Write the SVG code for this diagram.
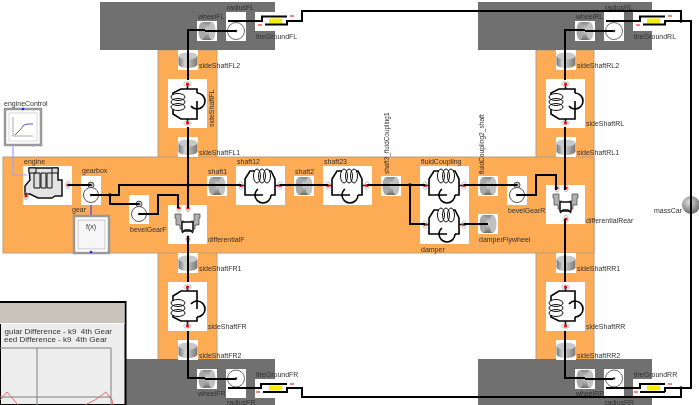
<svg xmlns="http://www.w3.org/2000/svg" xmlns:xlink="http://www.w3.org/1999/xlink" width="699" height="405" viewBox="0 0 699 405">
<style>
text{font-family:"Liberation Sans",Arial,sans-serif;font-size:7px;fill:#333}
.w{fill:#fff}
.org{fill:#fdab55;stroke:#b8a080;stroke-width:1}
.gry{fill:#6f6f6f}
.c{fill:none;stroke:#000;stroke-width:2}
.t{fill:none;stroke:#000;stroke-width:1.6}
.th{fill:none;stroke:#111;stroke-width:1}
.r{fill:#f00}
.ring{fill:none;stroke:#999;stroke-width:.6}
.bl{fill:none;stroke:#4040f0;stroke-width:1.2}
.lb{fill:none;stroke:#a0a0ff;stroke-width:1.2}
.frame{fill:#fff;stroke:#999;stroke-width:2.5}
.pl{fill:none;stroke:#e05050;stroke-width:.8}
.g{fill:none;stroke:#808080;stroke-width:1}
</style>
<defs>
<linearGradient id="gv" x1="0" x2="1" y1="0" y2="0"><stop offset="0" stop-color="#777"/><stop offset=".35" stop-color="#d4d4d4"/><stop offset="1" stop-color="#777"/></linearGradient>
<linearGradient id="gd" x1="0" x2="0" y1="0" y2="1"><stop offset="0" stop-color="#888"/><stop offset=".45" stop-color="#d4d4d4"/><stop offset="1" stop-color="#6c6c6c"/></linearGradient>
<radialGradient id="sp" cx=".4" cy=".35" r=".7"><stop offset="0" stop-color="#ddd"/><stop offset="1" stop-color="#666"/></radialGradient>
<g id="port"><ellipse cx="0" cy="0" rx="2.2" ry="3.8" class="ring"/><circle r="1.6" class="r"/></g>
<g id="sd">
<rect width="49" height="39" class="w"/>
<path class="t" d="M4 19.500H9V29H27M9 19.500V13L14 5H19M33 5H35L39 13V29H35M39 19.500H45"/>
<path class="t" d="M35 29A8 8 0 0 1 19 29A8 8 0 0 1 22 23"/>
<ellipse cx="21" cy="10" rx="3.500" ry="7" class="th"/><ellipse cx="26" cy="10" rx="3.500" ry="7" class="th"/><ellipse cx="31" cy="10" rx="3.500" ry="7" class="th"/>
<use xlink:href="#port" x="5" y="19.500"/><use xlink:href="#port" x="44" y="19.500"/>
</g>
<g id="dh"><rect width="20" height="20" class="w"/><rect x="5" y="1" width="10" height="18" fill="url(#gd)"/><ellipse cx="5" cy="10" rx="3.500" ry="9" fill="#a8a8a8"/><ellipse cx="15" cy="10" rx="3.500" ry="9" fill="#c0c0c0"/></g>
<g id="dv"><rect width="20" height="20" class="w"/><path d="M.5 6V14.500A9.500 3.500 0 0 0 19.500 14.500V6Z" fill="url(#gv)"/><ellipse cx="10" cy="6" rx="9.500" ry="3.500" fill="#c8c8c8"/></g>
<g id="gb"><rect width="20" height="29" class="w"/><circle cx="10" cy="9" r="3" fill="#bbb" stroke="#333" stroke-width=".8"/><circle cx="10" cy="9" r="1" fill="#333"/><circle cx="10" cy="19" r="7.500" fill="#fff" stroke="#555" stroke-width="1"/><circle cx="10" cy="19" r="1.200" fill="#333"/></g>
<g id="rad"><rect width="20" height="29" class="w"/><circle cx="10" cy="19" r="8.500" fill="#fff" stroke="#444" stroke-width=".8"/><circle cx="10" cy="19" r="1.300" fill="#333"/></g>
<g id="rad2"><rect width="20" height="29" class="w"/><circle cx="10" cy="9.500" r="8.500" fill="#fff" stroke="#444" stroke-width=".8"/><circle cx="10" cy="9.500" r="1.300" fill="#333"/></g>
<g id="tire"><rect width="40" height="19" class="w"/></g>
<g id="yel"><rect x="14" y="6.500" width="13" height="5" fill="#f8ee00"/></g>
<g id="diff"><rect width="39" height="39" class="w"/>
<path d="M7 9H13V16H16V24H12V20H8V13H7ZM32 9H26V16H23V24H27V20H31V13H32Z" fill="#b0b0b0" stroke="#444" stroke-width=".7"/>
<rect x="14" y="17" width="11" height="9" fill="#fff" stroke="#111" stroke-width="1.500"/>
<path d="M14 28L17 25H22L25 28" fill="none" stroke="#111" stroke-width="1.300"/>
<use xlink:href="#port" x="11" y="3"/><use xlink:href="#port" x="20" y="3"/><use xlink:href="#port" x="20" y="34"/></g>
<filter id="soft" x="0" y="0" width="100%" height="100%"><feGaussianBlur stdDeviation="0.35"/></filter>
<clipPath id="pc"><rect x="0" y="302" width="125" height="103"/></clipPath>
</defs>
<g filter="url(#soft)">
<rect width="699" height="405" fill="#fff"/>
<g id="background">
<rect x="158" y="50" width="59" height="310" class="org"/>
<rect x="536" y="50" width="58" height="310" class="org"/>
<rect x="3" y="157" width="591" height="96" class="org"/>
<rect x="100" y="2" width="175" height="48" class="gry"/>
<rect x="478" y="2" width="174" height="48" class="gry"/>
<rect x="100" y="359" width="175" height="46" class="gry"/>
<rect x="478" y="359" width="174" height="46" class="gry"/>
</g>
<g id="engineControl"><rect x="5" y="109" width="36" height="36" class="frame"/><rect x="9" y="113" width="28" height="28" fill="#fff" stroke="#ccc" stroke-width=".8"/><path d="M13 117V136H33" fill="none" stroke="#888" stroke-width=".7"/><path d="M15 135L20 130 24 125 28 124 33 124" fill="none" stroke="#4848c8" stroke-width=".9"/><circle cx="23" cy="109" r="1.300" fill="#2020f0"/><text x="4" y="106">engineControl</text></g>
<g id="engine"><rect x="23" y="166" width="49" height="39" class="w"/>
<path d="M29 168H58V180H62V190H62V196H55L52 198H38L30 194H25V186L30 180Z" fill="#e4e4e4" stroke="#111" stroke-width="1.500"/>
<path d="M29 168H36V173H29ZM34 173H40V188H34ZM41 173H46V188H41ZM47 173H52V188H47ZM52 168H58V173H52Z" fill="#ddd" stroke="#111" stroke-width="1"/>
<use xlink:href="#port" x="68" y="185"/><use xlink:href="#port" x="26" y="196"/><text x="24" y="164">engine</text></g>
<g id="gearbox"><use xlink:href="#gb" x="81" y="176"/><text x="82" y="173">gearbox</text></g>
<g id="gear"><rect x="74" y="216" width="35" height="37" class="frame"/><rect x="78" y="220" width="27" height="29" fill="#f6f6f6" stroke="#bbb" stroke-width=".8"/><text x="86" y="229">f(x)</text><circle cx="91" cy="252" r="1.300" fill="#2020f0"/><text x="72" y="212">gear</text></g>
<g id="bevelGearF"><use xlink:href="#gb" x="129" y="195"/><text x="130" y="232">bevelGearF</text></g>
<g id="differentialF"><use xlink:href="#diff" x="168" y="205"/><text x="208" y="242">differentialF</text></g>
<g id="shaft1"><use xlink:href="#dh" x="207" y="176"/><text x="208" y="174">shaft1</text></g>
<g id="shaft12"><use xlink:href="#sd" x="236" y="166"/><text x="237" y="164">shaft12</text></g>
<g id="shaft2"><use xlink:href="#dh" x="294" y="176"/><text x="295" y="174">shaft2</text></g>
<g id="shaft23"><use xlink:href="#sd" x="323" y="166"/><text x="324" y="164">shaft23</text></g>
<g id="shaft3"><use xlink:href="#dh" x="381" y="176"/><text transform="translate(389 174) rotate(-90)" style="font-size:6.400px">shaft3_fluidCoupling1</text></g>
<g id="fluidCoupling"><use xlink:href="#sd" x="420" y="166"/><text x="421" y="164">fluidCoupling</text></g>
<g id="damper"><use xlink:href="#sd" x="420" y="205"/><text x="421" y="252">damper</text></g>
<g id="fluidCoupling2_shaft"><use xlink:href="#dh" x="478" y="176"/><text transform="translate(484 174) rotate(-90)" style="font-size:6.600px">fluidCoupling2_shaft</text></g>
<g id="damperFlywheel"><use xlink:href="#dh" x="478" y="214"/><text x="479" y="242">damperFlywheel</text></g>
<g id="bevelGearR"><use xlink:href="#gb" x="507" y="176"/><text x="508" y="213">bevelGearR</text></g>
<g id="differentialRear"><use xlink:href="#diff" x="546" y="185"/><text x="586" y="223">differentialRear</text></g>
<g id="massCar"><circle cx="691" cy="205" r="9" fill="url(#sp)"/><text x="654" y="213">massCar</text></g>

<g id="sideShaftFL2"><use xlink:href="#dv" x="178" y="50"/><text x="199" y="68">sideShaftFL2</text></g>
<g id="sideShaftFL"><use xlink:href="#sd" transform="matrix(0 -1 1 0 168 128)"/><text transform="translate(214 127) rotate(-90)">sideShaftFL</text></g>
<g id="sideShaftFL1"><use xlink:href="#dv" x="178" y="137"/><text x="199" y="155">sideShaftFL1</text></g>
<g id="wheelFL"><use xlink:href="#dh" x="197" y="21"/><text x="198" y="19">wheelFL</text></g>
<g id="radiusFL"><use xlink:href="#rad" x="226" y="12"/><text x="227" y="10">radiusFL</text></g>
<g id="tireGroundFL"><use xlink:href="#tire" x="255" y="12"/><use xlink:href="#yel" x="255" y="12"/><text x="256" y="39">tireGroundFL</text></g>

<g id="sideShaftFR1"><use xlink:href="#dv" x="178" y="253"/><text x="199" y="271">sideShaftFR1</text></g>
<g id="sideShaftFR"><use xlink:href="#sd" transform="matrix(0 1 1 0 168 282)"/><text x="208" y="329">sideShaftFR</text></g>
<g id="sideShaftFR2"><use xlink:href="#dv" x="178" y="340"/><text x="199" y="358">sideShaftFR2</text></g>
<g id="wheelFR"><use xlink:href="#dh" x="197" y="369"/><text x="198" y="396">wheelFR</text></g>
<g id="radiusFR"><use xlink:href="#rad2" x="226" y="369"/><text x="227" y="405">radiusFR</text></g>
<g id="tireGroundFR"><use xlink:href="#tire" x="255" y="379"/><use xlink:href="#yel" x="255" y="379"/><text x="256" y="377">tireGroundFR</text></g>

<g id="sideShaftRL2"><use xlink:href="#dv" x="556" y="50"/><text x="577" y="68">sideShaftRL2</text></g>
<g id="sideShaftRL"><use xlink:href="#sd" transform="matrix(0 -1 1 0 546 128)"/><text x="586" y="126">sideShaftRL</text></g>
<g id="sideShaftRL1"><use xlink:href="#dv" x="556" y="137"/><text x="577" y="155">sideShaftRL1</text></g>
<g id="wheelRL"><use xlink:href="#dh" x="575" y="21"/><text x="576" y="19">wheelRL</text></g>
<g id="radiusRL"><use xlink:href="#rad" x="604" y="12"/><text x="605" y="10">radiusRL</text></g>
<g id="tireGroundRL"><use xlink:href="#tire" x="633" y="12"/><use xlink:href="#yel" x="633" y="12"/><text x="634" y="39">tireGroundRL</text></g>

<g id="sideShaftRR1"><use xlink:href="#dv" x="556" y="253"/><text x="577" y="271">sideShaftRR1</text></g>
<g id="sideShaftRR"><use xlink:href="#sd" transform="matrix(0 1 1 0 546 282)"/><text x="586" y="329">sideShaftRR</text></g>
<g id="sideShaftRR2"><use xlink:href="#dv" x="556" y="340"/><text x="577" y="358">sideShaftRR2</text></g>
<g id="wheelRR"><use xlink:href="#dh" x="575" y="369"/><text x="576" y="396">wheelRR</text></g>
<g id="radiusRR"><use xlink:href="#rad2" x="604" y="369"/><text x="605" y="405">radiusRR</text></g>
<g id="tireGroundRR"><use xlink:href="#tire" x="633" y="379"/><use xlink:href="#yel" x="633" y="379"/><text x="634" y="377">tireGroundRR</text></g>

<g id="connectors">
<path class="lb" d="M13 145V175H27M33 145V147"/>
<path class="bl" d="M91 215V205"/>
<path class="c" d="M68 185H91M91 195H119V185H215M110 195V204H139M139 214H158V195H178V208"/>
<path class="c" d="M188 60V30H205M205 31H236M188 60V80M188 127V208M188 236V282M188 331V378H205M205 379H236"/>
<path class="c" d="M215 185H241M280 185H328M367 185H425M410 185V224H425M464 185H488M464 224H488"/>
<path class="c" d="M488 185H517M517 195H536V175H556V190M565 127V190M565 219V282M565 331V378H585M585 379H613"/>
<path class="c" d="M565 80V30H585M585 31H613"/>
<path class="c" d="M228 21H262V16.500H287M265 24.500H287V21H302V11H681V21M606 21H640V16.500H665M643 24.500H665V21H691V388H665V392M665 384H640V388H606"/>
<path class="c" d="M228 388H261V384H287M263 392H287V388H302V397H681V388M640 392H665"/>
<circle cx="188" cy="185" r="1.800"/><circle cx="110" cy="195" r="1.800"/><circle cx="410" cy="185" r="1.800"/><circle cx="681" cy="21" r="1.800"/><circle cx="681" cy="388" r="1.800"/>
<path d="M290 16H294M258 25H262M668 16H672M636 25H640M290 384H294M256 392H260M668 384H672M634 392H638" stroke="#f00" stroke-width="1" fill="none"/>
</g>

<g id="plot">
<rect x="0" y="302" width="125.500" height="103" fill="#ededed" stroke="#000" stroke-width="2"/>
<rect x="0" y="303" width="124.500" height="20" fill="#c8c4bc"/>
<rect x="0" y="323" width="124.500" height="1" fill="#fff"/>
<g clip-path="url(#pc)">
<text x="112" y="334" text-anchor="end" xml:space="preserve" style="font-size:8px">gular Difference - k9  4th Gear</text>
<text x="107" y="342" text-anchor="end" xml:space="preserve" style="font-size:8px">eed Difference - k9  4th Gear</text>
<path class="g" d="M-1 348H111V406M37 348V406M-1 397H111"/>
<path class="pl" d="M0 400L7 392 18 405M85 405L95 400 106 392 112 400 113 405"/>
</g>
</g>
</g>
</svg>
